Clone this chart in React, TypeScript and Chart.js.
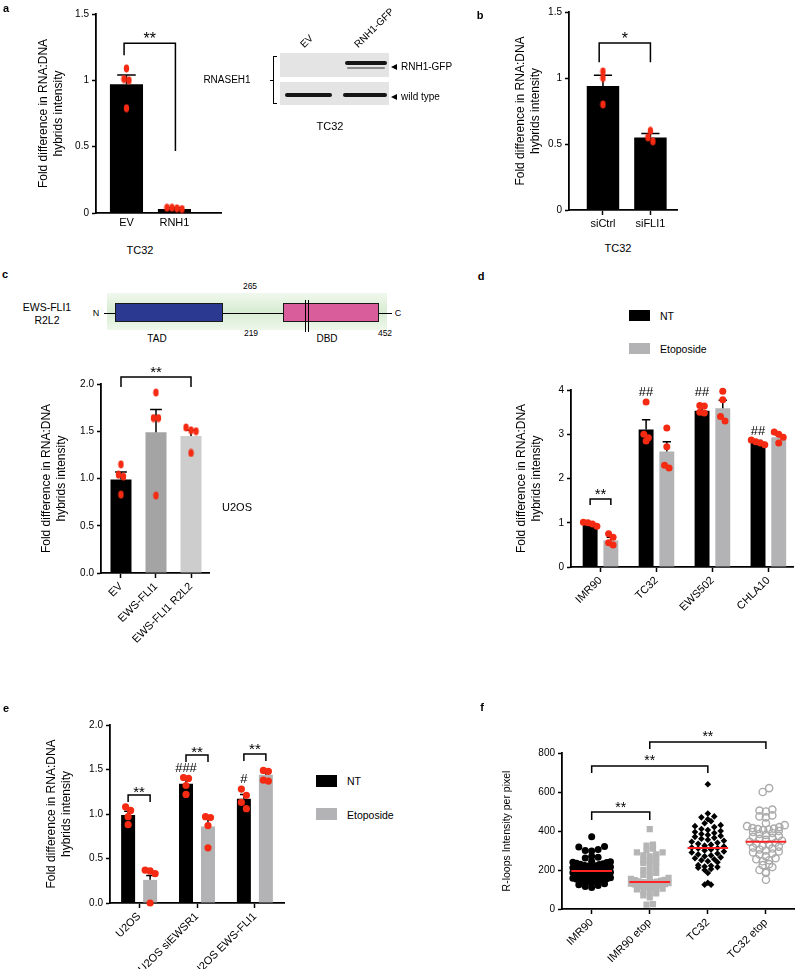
import React, { useEffect, useRef } from 'react';
import { Chart, registerables } from 'chart.js';

Chart.register(...registerables);

const FONT = "'Liberation Sans', Arial, Helvetica, sans-serif";
const RED = '#f42a12';
const GRAY = '#b3b3b6';

/* ================= DATA ================= */
// panel a
const aCategories = ['EV', 'RNH1'];
const aMeans = [0.97, 0.03];
const aErrTops = [1.04, 0.04];
const aDots = [[1.09, 1.01, 1.0, 0.79], [0.04, 0.035, 0.03, 0.04]];
const aYTicks = [0, 0.5, 1, 1.5];

// panel b
const bCategories = ['siCtrl', 'siFLI1'];
const bMeans = [0.94, 0.55];
const bErrTops = [1.02, 0.58];
const bDots = [[1.05, 1.0, 0.8], [0.6, 0.55, 0.52]];
const bYTicks = [0, 0.5, 1, 1.5];

// panel c
const cCategories = ['EV', 'EWS-FLI1', 'EWS-FLI1 R2L2'];
const cMeans = [0.99, 1.49, 1.45];
const cErrTops = [1.07, 1.73, 1.51];
const cDots = [[1.15, 1.04, 1.02, 0.83], [1.91, 1.64, 1.64, 0.82], [1.54, 1.51, 1.5, 1.27]];
const cYTicks = [0, 0.5, 1, 1.5, 2];

// panel d
const dCategories = ['IMR90', 'TC32', 'EWS502', 'CHLA10'];
const dNT = [0.98, 3.11, 3.53, 2.83];
const dEtop = [0.6, 2.61, 3.59, 2.93];
const dNTErr = [1.0, 3.33, 3.61, 2.86];
const dEtopErr = [0.67, 2.83, 3.77, 2.99];
const dNTDots = [[1.01, 1.0, 0.97, 0.92], [3.73, 3.0, 2.92, 2.85], [3.65, 3.64, 3.5, 3.48], [2.87, 2.83, 2.8, 2.76]];
const dEtopDots = [[0.75, 0.67, 0.55, 0.5], [3.14, 2.72, 2.3, 2.24], [3.97, 3.78, 3.4, 3.3], [3.05, 3.0, 2.93, 2.8]];
const dYTicks = [0, 1, 2, 3, 4];

// panel e
const eCategories = ['U2OS', 'U2OS siEWSR1', 'U2OS EWS-FLI1'];
const eNT = [0.99, 1.34, 1.17];
const eEtop = [0.26, 0.86, 1.44];
const eNTErr = [1.03, 1.38, 1.22];
const eEtopErr = [0.31, 0.95, 1.46];
const eNTDots = [[1.08, 1.04, 0.97, 0.88], [1.41, 1.4, 1.32, 1.22], [1.28, 1.21, 1.13, 1.06]];
const eEtopDots = [[0.37, 0.36, 0.33, 0.0], [0.97, 0.96, 0.87, 0.62], [1.49, 1.48, 1.38, 1.37]];
const eYTicks = [0, 0.5, 1, 1.5, 2];

// panel f
const fCategories = ['IMR90', 'IMR90 etop', 'TC32', 'TC32 etop'];
const fIMR90 = [370, 320, 318, 305, 300, 298, 270, 265, 262, 245, 242, 240, 238, 235, 232, 230, 228, 225, 222, 220,
  218, 215, 212, 210, 208, 205, 203, 200, 198, 196, 195, 193, 190, 188, 186, 184, 182, 180, 178, 175, 172, 170, 168,
  165, 162, 160, 158, 155, 152, 150, 148, 145, 142, 140, 138, 135, 130, 125, 120, 115, 110];
const fIMR90Etop = [410, 330, 325, 310, 300, 290, 290, 280, 275, 270, 262, 250, 245, 240, 235, 225, 215, 200, 195, 185,
  175, 165, 160, 155, 150, 148, 145, 142, 140, 138, 137, 136, 135, 132, 130, 128, 126, 124, 122, 120, 118, 115, 112,
  110, 105, 100, 95, 90, 85, 80, 70, 60, 25, 22];
const fTC32 = [640, 490, 475, 470, 460, 450, 440, 430, 425, 420, 410, 405, 400, 395, 390, 385, 380, 375, 370, 365, 360,
  355, 350, 345, 340, 335, 330, 325, 320, 315, 312, 310, 305, 300, 295, 290, 285, 280, 275, 270, 265, 260, 255, 250,
  245, 240, 225, 222, 218, 215, 212, 205, 200, 185, 135, 125, 125];
const fTC32Etop = [620, 600, 510, 505, 500, 480, 475, 470, 440, 430, 425, 420, 415, 412, 410, 408, 405, 400, 395, 390,
  385, 380, 375, 370, 365, 360, 355, 350, 345, 340, 335, 330, 325, 320, 315, 310, 305, 300, 295, 290, 285, 280, 270,
  260, 255, 250, 245, 230, 225, 215, 200, 190, 185, 150];
const fMedians = [195, 138, 313, 345];
const fYTicks = [0, 200, 400, 600, 800];

/* ================= ANNOTATIONS (value units) ================= */
type Bracket = { x1: number; x2: number; top: number; leftEnd: number; rightEnd: number; label: string; labelY: number };
type Mark = { x: number; y: number; label: string };

const aBrackets: Bracket[] = [{ x1: -0.05, x2: 1.02, top: 1.28, leftEnd: 1.19, rightEnd: 0.467, label: '**', labelY: 1.345 }];
const bBrackets: Bracket[] = [{ x1: -0.08, x2: 1, top: 1.265, leftEnd: 1.12, rightEnd: 1.12, label: '*', labelY: 1.326 }];
const cBrackets: Bracket[] = [{ x1: 0, x2: 2, top: 2.074, leftEnd: 1.968, rightEnd: 1.968, label: '**', labelY: 2.16 }];
const dBrackets: Bracket[] = [{ x1: -0.185, x2: 0.185, top: 1.537, leftEnd: 1.4, rightEnd: 1.4, label: '**', labelY: 1.73 }];
const dMarks: Mark[] = [
  { x: 1 - 0.185, y: 3.98, label: '##' },
  { x: 2 - 0.185, y: 3.98, label: '##' },
  { x: 3 - 0.185, y: 3.1, label: '##' },
];
const eBrackets: Bracket[] = [
  { x1: -0.19, x2: 0.19, top: 1.213, leftEnd: 1.135, rightEnd: 1.135, label: '**', labelY: 1.29 },
  { x1: 0.81, x2: 1.19, top: 1.663, leftEnd: 1.584, rightEnd: 1.584, label: '**', labelY: 1.74 },
  { x1: 1.81, x2: 2.19, top: 1.674, leftEnd: 1.595, rightEnd: 1.595, label: '**', labelY: 1.77 },
];
const eMarks: Mark[] = [
  { x: 0.81, y: 1.52, label: '###' },
  { x: 1.81, y: 1.40, label: '#' },
];
const fBrackets: Bracket[] = [
  { x1: 0, x2: 1, top: 497, leftEnd: 456, rightEnd: 456, label: '**', labelY: 536 },
  { x1: 0, x2: 2, top: 733, leftEnd: 697, rightEnd: 697, label: '**', labelY: 777 },
  { x1: 1, x2: 3, top: 856, leftEnd: 820, rightEnd: 820, label: '**', labelY: 905 },
];

/* ================= HELPERS ================= */
type Rect = { l: number; t: number; w: number; h: number };
type Area = { l: number; t: number; r: number; b: number };

function layoutFor(rect: Rect, area: Area, yTitleX: number, lh: number) {
  const padLeft = Math.max(0, yTitleX - 4 - lh / 2 - rect.l);
  return {
    padding: { left: padLeft, top: area.t - rect.t, right: rect.l + rect.w - area.r, bottom: 0 },
    yWidth: area.l - rect.l - padLeft,
    xHeight: rect.t + rect.h - area.b,
  };
}

function ellipseDot(color: string) {
  const c = document.createElement('canvas');
  c.width = 7;
  c.height = 9;
  const x = c.getContext('2d')!;
  x.fillStyle = color;
  x.beginPath();
  x.ellipse(3.5, 4.5, 2.7, 4.0, 0, 0, Math.PI * 2);
  x.fill();
  return c;
}

// spread close values horizontally (GraphPad-like)
function spreadDots(vals: number[], center: number, thr: number, step: number) {
  const sorted = [...vals].sort((a, b) => b - a);
  const clusters: number[][] = [];
  sorted.forEach((v) => {
    const c = clusters[clusters.length - 1];
    if (c && c[0] - v < thr) c.push(v);
    else clusters.push([v]);
  });
  const pts: { x: number; y: number }[] = [];
  clusters.forEach((c) => {
    const n = c.length;
    c.forEach((v, j) => pts.push({ x: center + (j - (n - 1) / 2) * step, y: v }));
  });
  return pts;
}

// beeswarm with binned rows (V-shaped rows)
function swarm(vals: number[], center: number, bin: number, step: number, maxHalf: number) {
  const groups = new Map<number, number[]>();
  vals.forEach((v) => {
    const k = Math.floor(v / bin);
    if (!groups.has(k)) groups.set(k, []);
    groups.get(k)!.push(v);
  });
  const pts: { x: number; y: number }[] = [];
  groups.forEach((list) => {
    list.sort((a, b) => a - b);
    const n = list.length;
    let s = step;
    if (((n - 1) / 2) * s > maxHalf) s = maxHalf / ((n - 1) / 2);
    const offs = list.map((_, j) => (j - (n - 1) / 2) * s);
    offs.sort((a, b) => Math.abs(a) - Math.abs(b) || a - b);
    list.forEach((v, j) => pts.push({ x: center + offs[j], y: v }));
  });
  return pts;
}

function annotPlugin(brackets: Bracket[], marks: Mark[], medians?: number[], bracketSize = 15) {
  return {
    id: 'annot',
    afterDatasetDraw(chart: any, args: any) {
      const meta = args.meta;
      if (meta.type !== 'bar') return;
      const ds = chart.data.datasets[args.index];
      const tops: number[] | undefined = ds.errTops;
      if (!tops) return;
      const ctx = chart.ctx;
      const ys = chart.scales.y;
      ctx.save();
      ctx.strokeStyle = '#000';
      ctx.lineWidth = 1.5;
      meta.data.forEach((el: any, i: number) => {
        const yt = ys.getPixelForValue(tops[i]);
        const cap = el.width * 0.28;
        ctx.beginPath();
        ctx.moveTo(el.x, el.y);
        ctx.lineTo(el.x, yt);
        ctx.moveTo(el.x - cap, yt);
        ctx.lineTo(el.x + cap, yt);
        ctx.stroke();
      });
      ctx.restore();
    },
    afterDatasetsDraw(chart: any) {
      const ctx = chart.ctx;
      const xs = chart.scales.x;
      const ys = chart.scales.y;
      ctx.save();
      if (medians) {
        ctx.strokeStyle = '#ff2222';
        ctx.lineWidth = 2;
        medians.forEach((m, i) => {
          const y = ys.getPixelForValue(m);
          ctx.beginPath();
          ctx.moveTo(xs.getPixelForValue(i - 0.35), y);
          ctx.lineTo(xs.getPixelForValue(i + 0.35), y);
          ctx.stroke();
        });
      }
      ctx.strokeStyle = '#000';
      ctx.fillStyle = '#000';
      ctx.lineWidth = 1.5;
      ctx.textAlign = 'center';
      ctx.textBaseline = 'alphabetic';
      brackets.forEach((b) => {
        const x1 = xs.getPixelForValue(b.x1);
        const x2 = xs.getPixelForValue(b.x2);
        const yt = ys.getPixelForValue(b.top);
        ctx.beginPath();
        ctx.moveTo(x1, ys.getPixelForValue(b.leftEnd));
        ctx.lineTo(x1, yt);
        ctx.lineTo(x2, yt);
        ctx.lineTo(x2, ys.getPixelForValue(b.rightEnd));
        ctx.stroke();
        ctx.font = `${bracketSize}px ${FONT}`;
        ctx.fillText(b.label, (x1 + x2) / 2, ys.getPixelForValue(b.labelY) + 0.57 * bracketSize);
      });
      marks.forEach((m) => {
        ctx.font = `13px ${FONT}`;
        ctx.fillText(m.label, xs.getPixelForValue(m.x), ys.getPixelForValue(m.y) + 0.36 * 13);
      });
      ctx.restore();
    },
  };
}

function xScale(cats: string[], xMin: number, xMax: number, xHeight: number, rot: number, tickMarks: boolean, size: number) {
  return {
    type: 'linear',
    min: xMin,
    max: xMax,
    offset: false,
    afterBuildTicks: (s: any) => {
      s.ticks = cats.map((_, i) => ({ value: i }));
    },
    afterFit: (s: any) => {
      s.height = xHeight;
    },
    grid: {
      display: true,
      drawOnChartArea: false,
      drawTicks: tickMarks,
      tickLength: 5,
      tickWidth: 1.5,
      tickColor: '#000',
      color: '#000',
      offset: false,
    },
    border: { display: true, color: '#000', width: 1.8 },
    ticks: {
      autoSkip: false,
      maxRotation: rot,
      minRotation: rot,
      padding: tickMarks ? 2 : 3,
      color: '#000',
      font: { family: FONT, size },
      callback: (v: number) => cats[v] ?? '',
    },
  };
}

function yScale(ticks: number[], fmt: (v: number) => string, yWidth: number, title: string[], titleSize: number, tickSize: number) {
  return {
    type: 'linear',
    min: ticks[0],
    max: ticks[ticks.length - 1],
    afterBuildTicks: (s: any) => {
      s.ticks = ticks.map((v) => ({ value: v }));
    },
    afterFit: (s: any) => {
      s.width = yWidth;
    },
    grid: { display: true, drawOnChartArea: false, drawTicks: true, tickLength: 4, tickWidth: 1.5, tickColor: '#000', color: '#000' },
    border: { display: true, color: '#000', width: 1.8 },
    ticks: { color: '#000', padding: 3, font: { family: FONT, size: tickSize }, callback: (v: number) => fmt(v) },
    title: {
      display: true,
      text: title,
      color: '#000',
      font: { family: FONT, size: titleSize, lineHeight: 1.25 },
      padding: { top: 4, bottom: 4 },
    },
  };
}

type Series = { means: number[]; errs: number[]; dots: number[][]; color: string | string[] };
type BarSpec = {
  rect: Rect;
  area: Area;
  yTitleX: number;
  yTitle: string[];
  cats: string[];
  xMin: number;
  xMax: number;
  yTicks: number[];
  yFmt: (v: number) => string;
  series: Series[];
  catPct: number;
  barPct: number;
  rot: number;
  tickMarks: boolean;
  ellipse: boolean;
  dotRadius: number;
  dotStepPx: number;
  brackets: Bracket[];
  marks: Mark[];
  bracketSize?: number;
};

const TITLE_SIZE = 12;
const TICK_SIZE = 10;
const CAT_SIZE = 11;

function barConfig(spec: BarSpec): any {
  const lh = TITLE_SIZE * 1.25;
  const L = layoutFor(spec.rect, spec.area, spec.yTitleX, lh);
  const D = spec.series.length;
  const yMin = spec.yTicks[0];
  const yMax = spec.yTicks[spec.yTicks.length - 1];
  const pxPerCat = (spec.area.r - spec.area.l) / (spec.xMax - spec.xMin);
  const pxPerVal = (spec.area.b - spec.area.t) / (yMax - yMin);
  const datasets: any[] = [];
  spec.series.forEach((s) => {
    datasets.push({
      type: 'bar',
      data: s.means.map((v, i) => ({ x: i, y: v })),
      backgroundColor: s.color,
      borderWidth: 0,
      categoryPercentage: spec.catPct,
      barPercentage: spec.barPct,
      errTops: s.errs,
      order: 1,
    });
  });
  spec.series.forEach((s, d) => {
    const off = -spec.catPct / 2 + (spec.catPct / D) * (d + 0.5);
    const pts = s.dots.flatMap((vals, i) => spreadDots(vals, i + off, 6.5 / pxPerVal, spec.dotStepPx / pxPerCat));
    datasets.push({
      type: 'scatter',
      data: pts,
      pointStyle: spec.ellipse ? ellipseDot(RED) : 'circle',
      pointRadius: spec.dotRadius,
      backgroundColor: RED,
      borderWidth: 0,
      clip: false,
      order: 0,
    });
  });
  return {
    type: 'bar',
    data: { datasets },
    options: {
      animation: false,
      responsive: false,
      events: [],
      layout: { padding: L.padding },
      plugins: { legend: { display: false }, tooltip: { enabled: false } },
      scales: {
        x: xScale(spec.cats, spec.xMin, spec.xMax, L.xHeight, spec.rot, spec.tickMarks, CAT_SIZE),
        y: yScale(spec.yTicks, spec.yFmt, L.yWidth, spec.yTitle, TITLE_SIZE, TICK_SIZE),
      },
    },
    plugins: [annotPlugin(spec.brackets, spec.marks, undefined, spec.bracketSize ?? 15)],
  };
}

const FOLD = ['Fold difference in RNA:DNA', 'hybrids intensity'];
const fmtPlain = (v: number) => String(v);
const fmt1 = (v: number) => v.toFixed(1);

const rectA: Rect = { l: 0, t: 0, w: 235, h: 240 };
const rectB: Rect = { l: 480, t: 0, w: 210, h: 240 };
const rectC: Rect = { l: 0, t: 350, w: 240, h: 300 };
const rectD: Rect = { l: 480, t: 360, w: 320, h: 290 };
const rectE: Rect = { l: 0, t: 700, w: 300, h: 269 };
const rectF: Rect = { l: 480, t: 720, w: 320, h: 249 };

function configA() {
  return barConfig({
    rect: rectA, area: { l: 96, t: 14, r: 221, b: 213 }, yTitleX: 44, yTitle: FOLD,
    cats: aCategories, xMin: -0.635, xMax: 1.97, yTicks: aYTicks, yFmt: fmtPlain,
    series: [{ means: aMeans, errs: aErrTops, dots: aDots, color: '#000' }],
    catPct: 0.69, barPct: 1, rot: 0, tickMarks: false, ellipse: true, dotRadius: 3, dotStepPx: 5,
    brackets: aBrackets, marks: [], bracketSize: 16,
  });
}
function configB() {
  return barConfig({
    rect: rectB, area: { l: 569, t: 12, r: 677, b: 210 }, yTitleX: 521, yTitle: FOLD,
    cats: bCategories, xMin: -0.716, xMax: 1.56, yTicks: bYTicks, yFmt: fmtPlain,
    series: [{ means: bMeans, errs: bErrTops, dots: bDots, color: '#000' }],
    catPct: 0.684, barPct: 1, rot: 0, tickMarks: true, ellipse: true, dotRadius: 3, dotStepPx: 5,
    brackets: bBrackets, marks: [], bracketSize: 16,
  });
}
function configC() {
  return barConfig({
    rect: rectC, area: { l: 101, t: 384, r: 209, b: 573 }, yTitleX: 47, yTitle: FOLD,
    cats: cCategories, xMin: -0.571, xMax: 2.514, yTicks: cYTicks, yFmt: fmt1,
    series: [{ means: cMeans, errs: cErrTops, dots: cDots, color: ['#000000', '#a4a4a4', '#cdcdcd'] }],
    catPct: 0.6, barPct: 1, rot: 45, tickMarks: true, ellipse: true, dotRadius: 3, dotStepPx: 5,
    brackets: cBrackets, marks: [],
  });
}
function configD() {
  return barConfig({
    rect: rectD, area: { l: 571, t: 390, r: 793, b: 567 }, yTitleX: 522, yTitle: FOLD,
    cats: dCategories, xMin: -0.527, xMax: 3.44, yTicks: dYTicks, yFmt: fmtPlain,
    series: [
      { means: dNT, errs: dNTErr, dots: dNTDots, color: '#000' },
      { means: dEtop, errs: dEtopErr, dots: dEtopDots, color: GRAY },
    ],
    catPct: 0.74, barPct: 0.72, rot: 45, tickMarks: true, ellipse: false, dotRadius: 3.5, dotStepPx: 4.5,
    brackets: dBrackets, marks: dMarks,
  });
}
function configE() {
  return barConfig({
    rect: rectE, area: { l: 110, t: 725, r: 284, b: 903 }, yTitleX: 52, yTitle: FOLD,
    cats: eCategories, xMin: -0.503, xMax: 2.503, yTicks: eYTicks, yFmt: fmt1,
    series: [
      { means: eNT, errs: eNTErr, dots: eNTDots, color: '#000' },
      { means: eEtop, errs: eEtopErr, dots: eEtopDots, color: GRAY },
    ],
    catPct: 0.76, barPct: 0.636, rot: 45, tickMarks: true, ellipse: false, dotRadius: 3.6, dotStepPx: 5,
    brackets: eBrackets, marks: eMarks,
  });
}
function configF() {
  const area: Area = { l: 562, t: 753, r: 797, b: 909 };
  const titleSize = 10.5;
  const L = layoutFor(rectF, area, 507, titleSize * 1.25);
  const xMin = -0.511;
  const xMax = 3.494;
  const pxPerCat = (area.r - area.l) / (xMax - xMin);
  const step = 6.5 / pxPerCat;
  const maxHalf = 19 / pxPerCat;
  const bin = 27;
  return {
    type: 'scatter',
    data: {
      datasets: [
        { data: swarm(fIMR90, 0, bin, step, maxHalf), pointStyle: 'circle', pointRadius: 3.5, backgroundColor: '#000', borderWidth: 0 },
        { data: swarm(fIMR90Etop, 1, bin, step, maxHalf), pointStyle: 'rect', pointRadius: 4.4, backgroundColor: '#b5b5b5', borderWidth: 0 },
        { data: swarm(fTC32, 2, bin, step, maxHalf), pointStyle: 'rectRot', pointRadius: 3.3, backgroundColor: '#000', borderWidth: 0 },
        { data: swarm(fTC32Etop, 3, bin, step, maxHalf), pointStyle: 'circle', pointRadius: 3.6, backgroundColor: 'rgba(255,255,255,0)', borderColor: '#aaaaaa', borderWidth: 1.4 },
      ],
    },
    options: {
      animation: false,
      responsive: false,
      events: [],
      layout: { padding: L.padding },
      plugins: { legend: { display: false }, tooltip: { enabled: false } },
      scales: {
        x: xScale(fCategories, xMin, xMax, L.xHeight, 45, true, CAT_SIZE),
        y: yScale(fYTicks, fmtPlain, L.yWidth, ['R-loops Intensity per pixel'], titleSize, TICK_SIZE),
      },
    },
    plugins: [annotPlugin(fBrackets, [], fMedians, 14)],
  };
}

function ChartCanvas({ rect, build }: { rect: Rect; build: () => any }) {
  const ref = useRef<HTMLCanvasElement>(null);
  useEffect(() => {
    const chart = new Chart(ref.current as HTMLCanvasElement, build());
    return () => chart.destroy();
  }, []);
  return (
    <canvas
      ref={ref}
      width={rect.w}
      height={rect.h}
      style={{ position: 'absolute', left: rect.l, top: rect.t, width: rect.w, height: rect.h, display: 'block' }}
    />
  );
}

function T({ x, y, text, size = 11, bold = false, anchor = 'center', rotate = 0 }: {
  x: number; y: number; text: string; size?: number; bold?: boolean; anchor?: 'center' | 'left' | 'right'; rotate?: number;
}) {
  const tx = anchor === 'center' ? '-50%' : anchor === 'right' ? '-100%' : '0';
  return (
    <div
      style={{
        position: 'absolute',
        left: x,
        top: y,
        transform: `translate(${tx}, -50%)${rotate ? ` rotate(${rotate}deg)` : ''}`,
        transformOrigin: anchor === 'left' ? '0 50%' : '50% 50%',
        fontFamily: FONT,
        fontSize: size,
        fontWeight: bold ? 'bold' : 'normal',
        whiteSpace: 'nowrap',
        lineHeight: 1.15,
        color: '#000',
      }}
    >
      {text}
    </div>
  );
}

function Box({ l, t, w, h, style }: { l: number; t: number; w: number; h: number; style?: React.CSSProperties }) {
  return <div style={{ position: 'absolute', left: l, top: t, width: w, height: h, ...style }} />;
}

function Arrow({ l, t }: { l: number; t: number }) {
  return (
    <div
      style={{
        position: 'absolute', left: l, top: t, width: 0, height: 0,
        borderTop: '3.5px solid transparent', borderBottom: '3.5px solid transparent', borderRight: '6px solid #000',
      }}
    />
  );
}

export default function App() {
  const band: React.CSSProperties = { background: '#151515', borderRadius: 2, filter: 'blur(0.5px)' };
  return (
    <div style={{ position: 'absolute', left: 0, top: 0, width: 800, height: 969, background: '#fff', overflow: 'hidden' }}>
      <ChartCanvas rect={rectA} build={configA} />
      <ChartCanvas rect={rectB} build={configB} />
      <ChartCanvas rect={rectC} build={configC} />
      <ChartCanvas rect={rectD} build={configD} />
      <ChartCanvas rect={rectE} build={configE} />
      <ChartCanvas rect={rectF} build={configF} />

      {/* panel letters */}
      <T x={6} y={8} text="a" bold size={11} />
      <T x={480} y={15} text="b" bold size={11} />
      <T x={5} y={274} text="c" bold size={11} />
      <T x={481} y={276} text="d" bold size={11} />
      <T x={6} y={708} text="e" bold size={11} />
      <T x={482} y={707} text="f" bold size={11} />

      {/* x titles a, b */}
      <T x={140} y={250} text="TC32" size={11} />
      <T x={618} y={248} text="TC32" size={11} />

      {/* western blot */}
      <T x={227} y={80} text="RNASEH1" size={10} />
      <Box l={273} t={56} w={1.2} h={48} style={{ background: '#000' }} />
      <Box l={273} t={56} w={4} h={1.2} style={{ background: '#000' }} />
      <Box l={273} t={103} w={4} h={1.2} style={{ background: '#000' }} />
      <Box l={269.5} t={79.5} w={4} h={1.2} style={{ background: '#000' }} />
      <Box l={280} t={53} w={109} h={24} style={{ background: '#e4e4e4' }} />
      <Box l={280} t={82} w={109} h={23} style={{ background: '#e4e4e4' }} />
      <Box l={345} t={61} w={42} h={3.5} style={band} />
      <Box l={347} t={67} w={38} h={1.6} style={{ ...band, background: '#8a8a8a' }} />
      <Box l={285} t={93} w={47} h={4} style={band} />
      <Box l={343} t={93} w={44} h={4} style={band} />
      <T x={302} y={46} text="EV" size={10} anchor="left" rotate={-45} />
      <T x={356} y={46} text="RNH1-GFP" size={10} anchor="left" rotate={-45} />
      <Arrow l={391} t={63.5} />
      <Arrow l={391} t={93.5} />
      <T x={401} y={67} text="RNH1-GFP" size={10} anchor="left" />
      <T x={401} y={97} text="wild type" size={10} anchor="left" />
      <T x={330} y={126} text="TC32" size={11} />

      {/* domain diagram */}
      <Box l={107} t={293} w={280} h={37} style={{ background: 'linear-gradient(#f1f8ee, #d7ecd2 50%, #eef7eb)' }} />
      <Box l={104} t={312.5} w={288} h={1} style={{ background: '#000' }} />
      <Box l={115} t={303} w={108} h={19} style={{ background: '#2c3990', border: '1px solid #1a1a1a', boxSizing: 'border-box' }} />
      <Box l={283} t={303} w={96} h={19} style={{ background: '#d95c9b', border: '1px solid #1a1a1a', boxSizing: 'border-box' }} />
      <Box l={304.5} t={300} w={1} h={32} style={{ background: '#000' }} />
      <Box l={307.5} t={300} w={1} h={32} style={{ background: '#000' }} />
      <T x={47} y={307} text="EWS-FLI1" size={10.5} />
      <T x={47} y={320} text="R2L2" size={10.5} />
      <T x={96} y={313} text="N" size={9} />
      <T x={398} y={313} text="C" size={9} />
      <T x={250} y={287} text="265" size={8.5} />
      <T x={251} y={334} text="219" size={8.5} />
      <T x={385} y={334} text="452" size={8.5} />
      <T x={157} y={339} text="TAD" size={10} />
      <T x={327} y={339} text="DBD" size={10} />
      <T x={237} y={507} text="U2OS" size={11} />

      {/* legend d */}
      <Box l={629} t={310} w={21} h={11} style={{ background: '#000' }} />
      <T x={660} y={315.5} text="NT" size={10.5} anchor="left" />
      <Box l={629} t={343} w={21} h={11} style={{ background: GRAY }} />
      <T x={660} y={349} text="Etoposide" size={10.5} anchor="left" />

      {/* legend e */}
      <Box l={316} t={775} w={21} h={12} style={{ background: '#000' }} />
      <T x={347} y={781} text="NT" size={10.5} anchor="left" />
      <Box l={316} t={808} w={21} h={12} style={{ background: GRAY }} />
      <T x={347} y={815} text="Etoposide" size={10.5} anchor="left" />
    </div>
  );
}
